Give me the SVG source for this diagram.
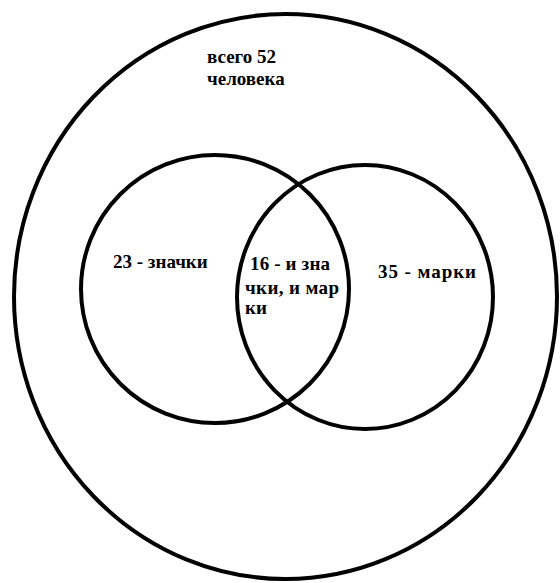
<svg xmlns="http://www.w3.org/2000/svg" width="560" height="583" viewBox="0 0 560 583">
<style>
.c{fill:none;stroke:#000;stroke-width:4}
.t{font-family:'Liberation Serif','DejaVu Serif',serif;font-weight:bold;font-size:19px;fill:#000}
</style>
<rect width="560" height="583" fill="#fff"/>
<g id="outer"><ellipse class="c" cx="285.5" cy="296.5" rx="271.5" ry="282.5"/>
<text class="t" x="207" y="63">всего 52</text><text class="t" x="207" y="85">человека</text></g>
<g id="left"><circle class="c" cx="215" cy="289" r="134"/>
<text class="t" x="113" y="268">23 - значки</text></g>
<g id="right"><ellipse class="c" cx="365" cy="297" rx="128" ry="132"/>
<text class="t" x="378" y="278" textLength="98">35 - марки</text></g>
<g id="both"><text class="t" x="250" y="270" textLength="80">16 - и зна</text><text class="t" x="245" y="294" textLength="94">чки, и мар</text><text class="t" x="245" y="314">ки</text></g>
<g id="connectors"/>
</svg>
